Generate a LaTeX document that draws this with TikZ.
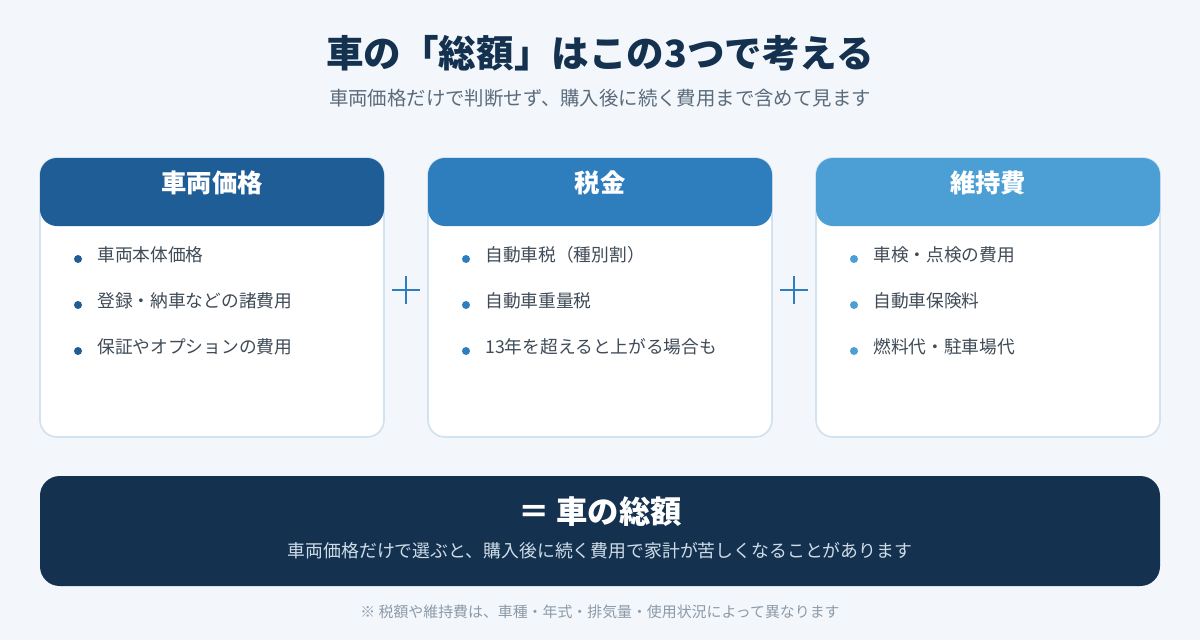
\documentclass[tikz,border=0pt]{standalone}
\usepackage{fontspec}
\setmainfont{Noto Sans CJK JP}
\usetikzlibrary{positioning}

\definecolor{bgcol}{HTML}{F3F7FB}
\definecolor{navy}{HTML}{14324F}
\definecolor{subgray}{HTML}{5B6B7C}
\definecolor{textgray}{HTML}{3F4B57}
\definecolor{cardline}{HTML}{D3E2EF}
\definecolor{headA}{HTML}{1F5D96}
\definecolor{headB}{HTML}{2E7EBE}
\definecolor{headC}{HTML}{4B9FD4}
\definecolor{notegray}{HTML}{8C9AA8}
\definecolor{sumtext}{HTML}{CFDCE8}

\newcommand*{\cardw}{344}
\newcommand*{\cardtop}{158}
\newcommand*{\cardbot}{437}
\newcommand*{\headbot}{226}

\begin{document}
\begin{tikzpicture}
[
	x=0.025cm, y=-0.025cm,
	titletext/.style={text=navy,font=\fontsize{26.7pt}{32pt}\selectfont\bfseries},
	subtext/.style={text=subgray,font=\fontsize{13.8pt}{17pt}\selectfont},
	card/.style={draw=cardline,fill=white,line width=1.2pt,rounded corners=12},
	headtext/.style={text=white,font=\fontsize{18pt}{22pt}\selectfont\bfseries},
	itemtext/.style={text=textgray,font=\fontsize{12.6pt}{15pt}\selectfont,anchor=west,inner sep=0pt},
	plussign/.style={headB,line width=1.5pt},
	sumtitle/.style={text=white,font=\fontsize{22.3pt}{27pt}\selectfont\bfseries},
	sumsub/.style={text=sumtext,font=\fontsize{12.7pt}{15pt}\selectfont},
	notetext/.style={text=notegray,font=\fontsize{10.6pt}{13pt}\selectfont}
]

	% background
	\fill[bgcol] (0,0) rectangle (1200,640);

	% title
	\node[titletext] (title) at (600,53) {車の「総額」はこの3つで考える};
	\node[subtext] (subtitle) at (600,98) {車両価格だけで判断せず、購入後に続く費用まで含めて見ます};

	% cards
	\foreach \x/\col/\head/\ia/\ib/\ic/\n in {
		40/headA/車両価格/車両本体価格/登録・納車などの諸費用/保証やオプションの費用/price,
		428/headB/税金/自動車税（種別割）/自動車重量税/13年を超えると上がる場合も/tax,
		816/headC/維持費/車検・点検の費用/自動車保険料/燃料代・駐車場代/upkeep}
	{
		\draw[card] (\x,\cardtop) rectangle ++(\cardw,\cardbot-\cardtop);
		\fill[\col,rounded corners=12] (\x,\cardtop) rectangle ++(\cardw,\headbot-\cardtop);
		\node[headtext] (\n-head) at (\x+\cardw/2,183) {\head};
		\foreach \y/\item [count=\i] in {255/\ia,301/\ib,347/\ic}
		{
			\fill[\col] (\x+38,\y+4) circle (4);
			\node[itemtext] (\n-\i) at (\x+57,\y) {\item};
		}
	}

	% plus signs
	\foreach \px in {406,794}
	{
		\draw[plussign] (\px-14,290) -- (\px+14,290);
		\draw[plussign] (\px,276) -- (\px,304);
	}

	% total
	\fill[navy,rounded corners=14] (40,476) rectangle (1160,586);
	\node[sumtitle] (total) at (600,512) {＝ 車の総額};
	\node[sumsub] (totalsub) at (600,551) {車両価格だけで選ぶと、購入後に続く費用で家計が苦しくなることがあります};

	% note
	\node[notetext] (note) at (600,612) {※ 税額や維持費は、車種・年式・排気量・使用状況によって異なります};

\end{tikzpicture}
\end{document}
